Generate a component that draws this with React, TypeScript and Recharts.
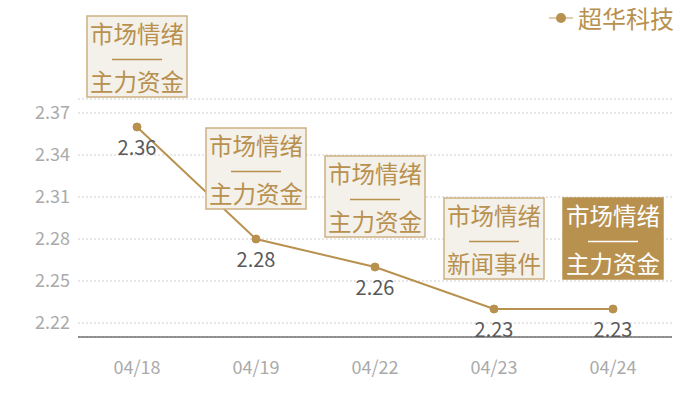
import * as React from 'react';
import { LineChart, Line, XAxis, YAxis, CartesianGrid, LabelList } from 'recharts';

const dates = ['04/18', '04/19', '04/22', '04/23', '04/24'];
const prices = [2.36, 2.28, 2.26, 2.23, 2.23];
const topTags = ['市场情绪', '市场情绪', '市场情绪', '市场情绪', '市场情绪'];
const bottomTags = ['主力资金', '主力资金', '主力资金', '新闻事件', '主力资金'];
const highlighted = [false, false, false, false, true];
const yTicks = [2.22, 2.25, 2.28, 2.31, 2.34, 2.37, 2.38];

const seriesName = '超华科技';
const GOLD = '#b8914f';
const FONT = '"Noto Sans CJK SC", "Noto Sans", sans-serif';

const data = dates.map((d, i) => ({
  date: d,
  price: prices[i],
  idx: i,
}));

// annotation box drawn above each point
function TagBox(props: any) {
  const { x, y, index } = props;
  const w = 100;
  const h = 81;
  const left = x - w / 2;
  const top = y - 30 - h;
  const on = highlighted[index];
  const txt = on ? '#ffffff' : GOLD;
  return (
    <g>
      <rect
        x={left}
        y={top}
        width={w}
        height={h}
        fill={on ? GOLD : '#f4f0ea'}
        stroke={on ? GOLD : '#cdb083'}
        strokeWidth={1.5}
      />
      <text x={x} y={top + 27} textAnchor="middle" fill={txt} fontSize={23.5} fontFamily={FONT}>
        {topTags[index]}
      </text>
      <line x1={x - 25} x2={x + 25} y1={top + 43.5} y2={top + 43.5} stroke={txt} strokeWidth={1.5} />
      <text x={x} y={top + 75} textAnchor="middle" fill={txt} fontSize={23.5} fontFamily={FONT}>
        {bottomTags[index]}
      </text>
    </g>
  );
}

function LegendBox() {
  return (
    <div
      style={{
        position: 'absolute',
        top: 4,
        left: 549,
        display: 'flex',
        alignItems: 'center',
        fontFamily: FONT,
        fontSize: 24,
        color: GOLD,
        lineHeight: '28px',
      }}
    >
      <svg width={24} height={12} style={{ marginRight: 5 }}>
        <line x1={0} x2={24} y1={6} y2={6} stroke={GOLD} strokeWidth={1.5} opacity={0.6} />
        <circle cx={12} cy={6} r={5} fill={GOLD} />
      </svg>
      <span>{seriesName}</span>
    </div>
  );
}

export default function App() {
  return (
    <div style={{ position: 'absolute', left: 0, top: 0, width: 700, height: 400, background: '#fff' }}>
      <LineChart width={700} height={400} data={data} margin={{ top: 99, right: 28, bottom: 0, left: 0 }}>
        <CartesianGrid
          vertical={false}
          horizontal
          stroke="#cfcfcf"
          strokeDasharray="2 2"
        />
        <XAxis
          dataKey="date"
          axisLine={{ stroke: '#333333', strokeWidth: 1.2 }}
          tickLine={false}
          padding={{ left: 59, right: 59 }}
          tick={{ fill: '#aaaaaa', fontSize: 18, fontFamily: FONT }}
          tickMargin={18}
          height={63}
        />
        <YAxis
          domain={[2.21, 2.38]}
          ticks={yTicks}
          interval={0}
          allowDataOverflow
          axisLine={false}
          tickLine={false}
          width={78}
          tick={{ fill: '#aaaaaa', fontSize: 18, fontFamily: FONT }}
          tickFormatter={(v: number) => (v === 2.38 ? '' : v.toFixed(2))}
        />
        <Line
          type="linear"
          dataKey="price"
          name={seriesName}
          stroke={GOLD}
          strokeWidth={2}
          dot={{ r: 4, fill: GOLD, stroke: GOLD, strokeWidth: 1 }}
          isAnimationActive={false}
        >
          <LabelList
            dataKey="price"
            position="bottom"
            offset={14}
            fill="#595959"
            fontSize={20}
            fontFamily={FONT}
            formatter={(v: any) => Number(v).toFixed(2)}
          />
          <LabelList dataKey="idx" content={<TagBox />} />
        </Line>
      </LineChart>
      <LegendBox />
    </div>
  );
}
